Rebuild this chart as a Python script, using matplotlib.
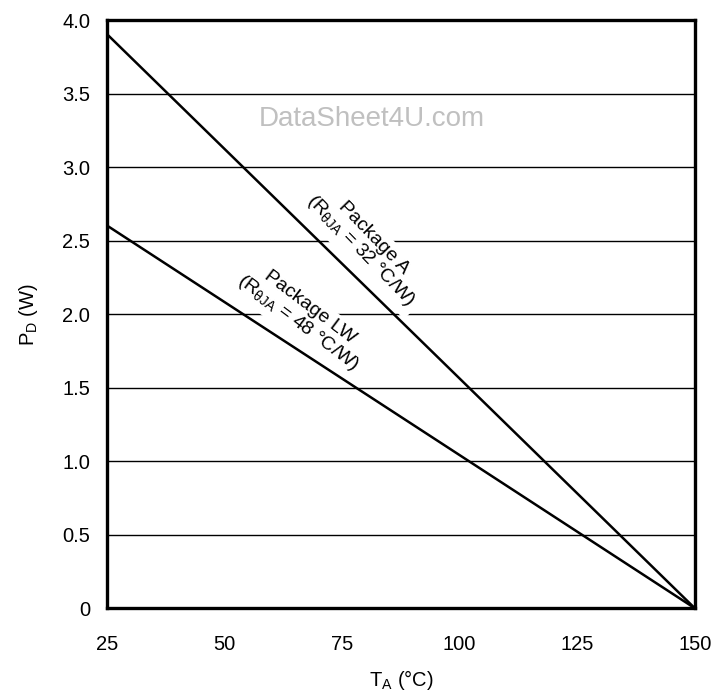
import matplotlib
matplotlib.use('Agg')
import matplotlib.pyplot as plt

plt.rcParams['font.family'] = ['Liberation Sans', 'DejaVu Sans']
plt.rcParams['mathtext.fontset'] = 'custom'
plt.rcParams['mathtext.rm'] = 'Liberation Sans'

# ambient temperature (degC) and max power dissipation (W)
ta = [25, 150]
pd_a = [125 / 32, 0]    # Package A, R = 32 C/W
pd_lw = [125 / 48, 0]   # Package LW, R = 48 C/W

x_ticks = [25, 50, 75, 100, 125, 150]
y_ticks = [0, 0.5, 1.0, 1.5, 2.0, 2.5, 3.0, 3.5, 4.0]
y_labels = ['0', '0.5', '1.0', '1.5', '2.0', '2.5', '3.0', '3.5', '4.0']

fig = plt.figure(figsize=(7.12, 6.96), dpi=100)
ax = fig.add_axes([0.150, 0.126, 0.826, 0.845])

for y in y_ticks[1:-1]:
    ax.axhline(y, color='black', lw=1.0, zorder=1)

ax.plot(ta, pd_a, color='black', lw=1.8, zorder=4)
ax.plot(ta, pd_lw, color='black', lw=1.8, zorder=4)

box = dict(facecolor='white', edgecolor='none', pad=4)
ax.text(80.2, 2.47, 'Package A\n(R$_{\\mathregular{θJA}}$ = 32 °C/W)', rotation=-46,
        ha='center', va='center', fontsize=14, linespacing=1.0,
        rotation_mode='anchor', bbox=box, zorder=3)
ax.text(66.8, 1.99, 'Package LW\n(R$_{\\mathregular{θJA}}$ = 48 °C/W)', rotation=-37,
        ha='center', va='center', fontsize=14, linespacing=1.0,
        rotation_mode='anchor', bbox=box, zorder=3)

ax.text(81.3, 3.33, 'DataSheet4U.com', color='#c0c0c0', fontsize=20,
        ha='center', va='center', zorder=3)

ax.set_xlim(25, 150)
ax.set_ylim(0, 4.0)
ax.set_xticks(x_ticks)
ax.set_yticks(y_ticks)
ax.set_yticklabels(y_labels)
ax.tick_params(length=0, labelsize=14.5)
ax.tick_params(axis='x', pad=19)
ax.tick_params(axis='y', pad=12)
for s in ax.spines.values():
    s.set_linewidth(2.4)
    s.set_zorder(5)

ax.set_xlabel('T$_\\mathregular{A}$ (°C)', fontsize=14.5, labelpad=10)
ax.set_ylabel('P$_\\mathregular{D}$ (W)', fontsize=14.5, labelpad=16)

fig.savefig('out.png', dpi=100)
